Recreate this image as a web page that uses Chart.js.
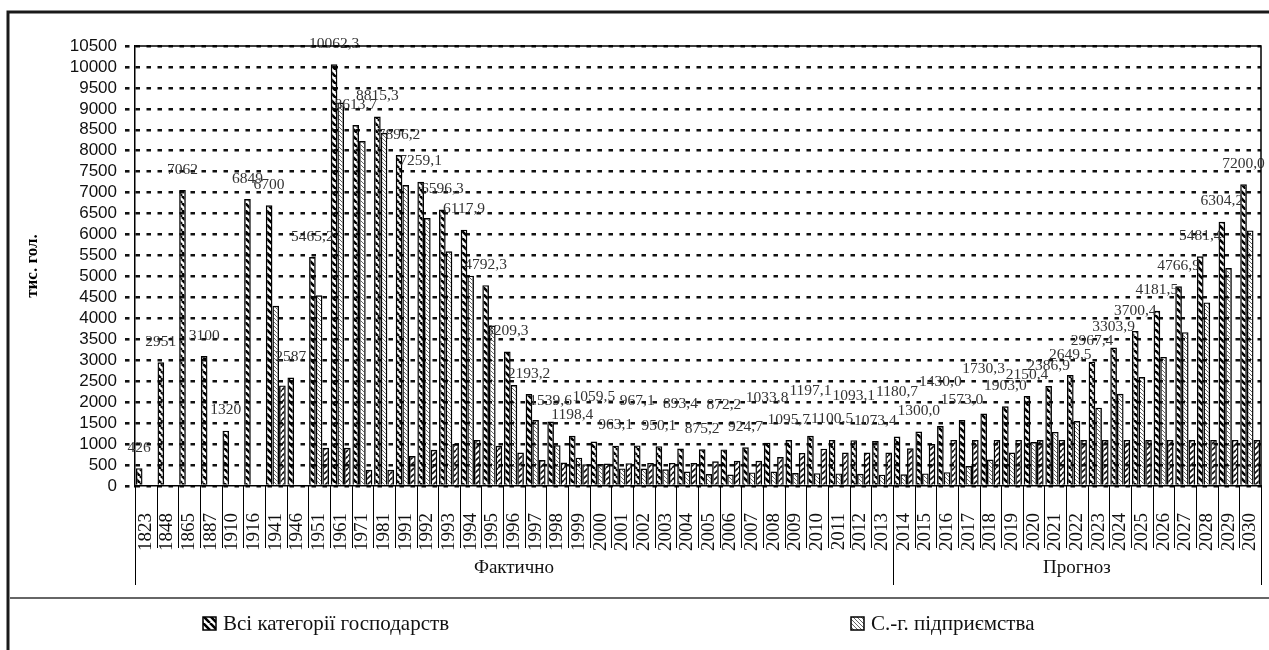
<!DOCTYPE html>
<html>
<head>
<meta charset="utf-8">
<script src="https://cdn.jsdelivr.net/npm/chart.js@4"></script>
<style>
  html, body { margin: 0; padding: 0; background: #fff; }
  #wrap { width: 1269px; height: 650px; }
</style>
</head>
<body>
<div id="wrap"><canvas id="sheep" width="1269" height="650"></canvas></div>
<script>
// роки (категорії осі X)
const years = [
  '1823', '1848', '1865', '1887', '1910', '1916', '1941', '1946', '1951', '1961', '1971', '1981', '1991',
  '1992', '1993', '1994', '1995', '1996', '1997', '1998', '1999', '2000', '2001', '2002', '2003',
  '2004', '2005', '2006', '2007', '2008', '2009', '2010', '2011', '2012', '2013',
  '2014', '2015', '2016', '2017', '2018', '2019', '2020', '2021', '2022', '2023', '2024', '2025',
  '2026', '2027', '2028', '2029', '2030'
];

// Всі категорії господарств, тис. гол.
const allFarms = [
  426, 2951, 7062, 3100, 1320, 6849, 6700, 2587, 5465.2, 10062.3, 8613.7, 8815.3, 7896.2,
  7259.1, 6596.3, 6117.9, 4792.3, 3209.3, 2193.2, 1539.6, 1198.4, 1059.5, 963.1, 967.1, 950.1,
  893.4, 875.2, 872.2, 924.7, 1033.8, 1095.7, 1197.1, 1100.5, 1093.1, 1073.4,
  1180.7, 1300.0, 1430.0, 1573.0, 1730.3, 1903.0, 2150.4, 2386.9, 2649.5, 2967.4, 3303.9, 3700.4,
  4181.5, 4766.9, 5481.4, 6304.2, 7200.0
];

// С.-г. підприємства (оцінка з рисунка)
const agriEnterprises = [
  null, null, null, null, null, null, 4300, null, 4550, 9150, 8230, 8430, 7180,
  6395, 5600, 5020, 3830, 2410, 1575, 975, 675, 525, 420, 415, 400,
  345, 285, 275, 325, 345, 310, 305, 300, 290, 270,
  280, 300, 330, 475, 630, 800, 1050, 1290, 1550, 1870, 2200, 2600,
  3080, 3670, 4380, 5200, 6100
];

// Господарства населення (оцінка з рисунка; у легенді за межами кадру)
const households = [
  null, null, null, null, null, null, 2400, null, 910, 910, 385, 385, 716,
  864, 1000, 1100, 960, 800, 618, 561, 520, 535, 545, 550, 550,
  550, 590, 600, 600, 690, 790, 890, 800, 800, 800,
  900, 1000, 1100, 1100, 1100, 1100, 1100, 1100, 1100, 1100, 1100, 1100,
  1100, 1100, 1100, 1100, 1100
];

const seriesNames = ['Всі категорії господарств', 'С.-г. підприємства', 'Господарства населення'];
const periods = [
  { label: 'Фактично', from: '1823', to: '2013' },
  { label: 'Прогноз', from: '2014', to: '2030' }
];
const yTicks = { min: 0, max: 10500, step: 500 };
const wholeLabelsUpTo = '1946'; // до цього року підписи без десяткових

const SERIF = '"Liberation Serif", "Times New Roman", serif';
const SANS = '"Liberation Sans", Arial, sans-serif';

function hatch(size, width, color, dir) {
  const c = document.createElement('canvas');
  c.width = size; c.height = size;
  const g = c.getContext('2d');
  g.strokeStyle = color;
  g.lineWidth = width;
  g.beginPath();
  for (let k = -1; k <= 1; k++) {
    if (dir === '\\') {
      g.moveTo(k * size, 0); g.lineTo(k * size + size, size);
    } else {
      g.moveTo(k * size, size); g.lineTo(k * size + size, 0);
    }
  }
  g.stroke();
  return g.createPattern(c, 'repeat');
}

const ctx0 = document.getElementById('sheep').getContext('2d');
const fills = [
  hatch(7, 2.6, '#000', '\\'),
  hatch(4, 0.9, '#555', '\\'),
  hatch(6, 1.6, '#111', '/')
];

function fmt(v, i) {
  if (i <= years.indexOf(wholeLabelsUpTo)) return String(Math.round(v));
  return v.toFixed(1).replace('.', ',');
}

const extras = {
  id: 'extras',
  beforeDraw(chart) {
    const c = chart.ctx;
    c.save();
    c.fillStyle = '#fff';
    c.fillRect(0, 0, chart.width, chart.height);
    c.restore();
  },
  afterDatasetsDraw(chart) {
    const c = chart.ctx;
    const meta = chart.getDatasetMeta(0);
    c.save();
    c.font = '15.5px ' + SERIF;
    c.fillStyle = '#333';
    c.textAlign = 'center';
    c.textBaseline = 'middle';
    let prev = null;
    meta.data.forEach((bar, i) => {
      const text = fmt(allFarms[i], i);
      const w = c.measureText(text).width;
      const base = bar.y - 20.5;
      let y = base;
      let lifted = false;
      if (prev && !prev.lifted) {
        const overlapX = (prev.x + prev.w / 2) - (bar.x - w / 2);
        if (overlapX > 10 && Math.abs(base - prev.base) < 8) {
          y = base - 24;
          lifted = true;
        }
      }
      c.fillText(text, bar.x, y);
      prev = { x: bar.x, w, base, lifted };
    });
    c.restore();
  },
  afterDraw(chart) {
    const c = chart.ctx;
    const area = chart.chartArea;
    const xs = chart.scales.x;
    const n = years.length;
    const step = (xs.right - xs.left) / n;
    const edge = i => xs.getPixelForValue(i) - step / 2;

    c.save();
    // рамка області побудови: верх і право
    c.strokeStyle = '#000';
    c.lineWidth = 1.5;
    c.beginPath();
    c.moveTo(area.left, area.top); c.lineTo(area.right, area.top);
    c.lineTo(area.right, area.bottom);
    c.stroke();

    // розділювачі категорій і груп
    const groupEdges = new Set([0, n]);
    periods.forEach(p => groupEdges.add(years.indexOf(p.from)));
    c.lineWidth = 1;
    c.beginPath();
    for (let i = 0; i <= n; i++) {
      const px = Math.round(i === n ? xs.right : edge(i)) + 0.5;
      c.moveTo(px, area.bottom);
      c.lineTo(px, groupEdges.has(i) ? 585 : 548);
    }
    c.stroke();

    c.fillStyle = '#111';
    c.font = '19px ' + SERIF;
    c.textAlign = 'center';
    c.textBaseline = 'middle';
    periods.forEach(p => {
      const a = edge(years.indexOf(p.from));
      const b = edge(years.indexOf(p.to)) + step;
      c.fillText(p.label, (a + b) / 2, 568);
    });

    // зовнішня рамка
    c.strokeStyle = '#1a1a1a';
    c.lineWidth = 3;
    c.beginPath();
    c.moveTo(8, chart.height); c.lineTo(8, 12); c.lineTo(chart.width, 12);
    c.stroke();

    // лінія над легендою
    c.strokeStyle = '#666';
    c.lineWidth = 2;
    c.beginPath();
    c.moveTo(10, 598); c.lineTo(chart.width, 598);
    c.stroke();

    // легенда
    c.font = '21px ' + SERIF;
    c.textAlign = 'left';
    chart.data.datasets.forEach((ds, i) => {
      const lx = 203 + i * 648;
      c.fillStyle = '#fff';
      c.fillRect(lx, 617, 13, 13);
      c.fillStyle = ds.backgroundColor;
      c.fillRect(lx, 617, 13, 13);
      c.strokeStyle = '#000';
      c.lineWidth = 1.5;
      c.strokeRect(lx, 617, 13, 13);
      c.fillStyle = '#111';
      c.fillText(ds.label, lx + 20, 624);
    });
    c.restore();
  }
};

new Chart(ctx0, {
  type: 'bar',
  data: {
    labels: years,
    datasets: [
      { label: seriesNames[0], data: allFarms, backgroundColor: fills[0], borderColor: '#000', borderWidth: 1.4 },
      { label: seriesNames[1], data: agriEnterprises, backgroundColor: fills[1], borderColor: '#000', borderWidth: 1.4 },
      { label: seriesNames[2], data: households, backgroundColor: fills[2], borderColor: '#000', borderWidth: 1.4 }
    ]
  },
  options: {
    responsive: false,
    animation: false,
    devicePixelRatio: 1,
    layout: { padding: { top: 46, right: 8, bottom: 0, left: 0 } },
    datasets: { bar: { categoryPercentage: 0.92, barPercentage: 1.0 } },
    plugins: {
      legend: { display: false },
      tooltip: { enabled: false }
    },
    scales: {
      x: {
        grid: { display: false },
        border: { display: true, color: '#000', width: 1.5 },
        ticks: {
          autoSkip: false,
          minRotation: 90,
          maxRotation: 90,
          padding: 19,
          color: '#111',
          font: { family: SERIF, size: 19 }
        },
        afterFit: s => { s.height = 164; s.paddingLeft = 0; s.paddingRight = 0; }
      },
      y: {
        min: yTicks.min,
        max: yTicks.max,
        ticks: {
          stepSize: yTicks.step,
          maxTicksLimit: 40,
          autoSkip: false,
          padding: 8,
          color: '#111',
          font: { family: SANS, size: 17 },
          callback: v => String(v)
        },
        grid: {
          color: '#111',
          lineWidth: 2.6,
          tickLength: 10,
          tickColor: '#111',
          tickWidth: 2.6,
          tickBorderDash: [4.5, 6.5]
        },
        border: { display: true, color: '#000', width: 1.5, dash: [4.5, 6.5] },
        title: {
          display: true,
          text: 'тис. гол.',
          color: '#000',
          padding: { top: 22, bottom: 0 },
          font: { family: SERIF, size: 17, weight: 'bold' }
        },
        afterFit: s => { s.width = 135; }
      }
    }
  },
  plugins: [extras]
});
</script>
</body>
</html>
